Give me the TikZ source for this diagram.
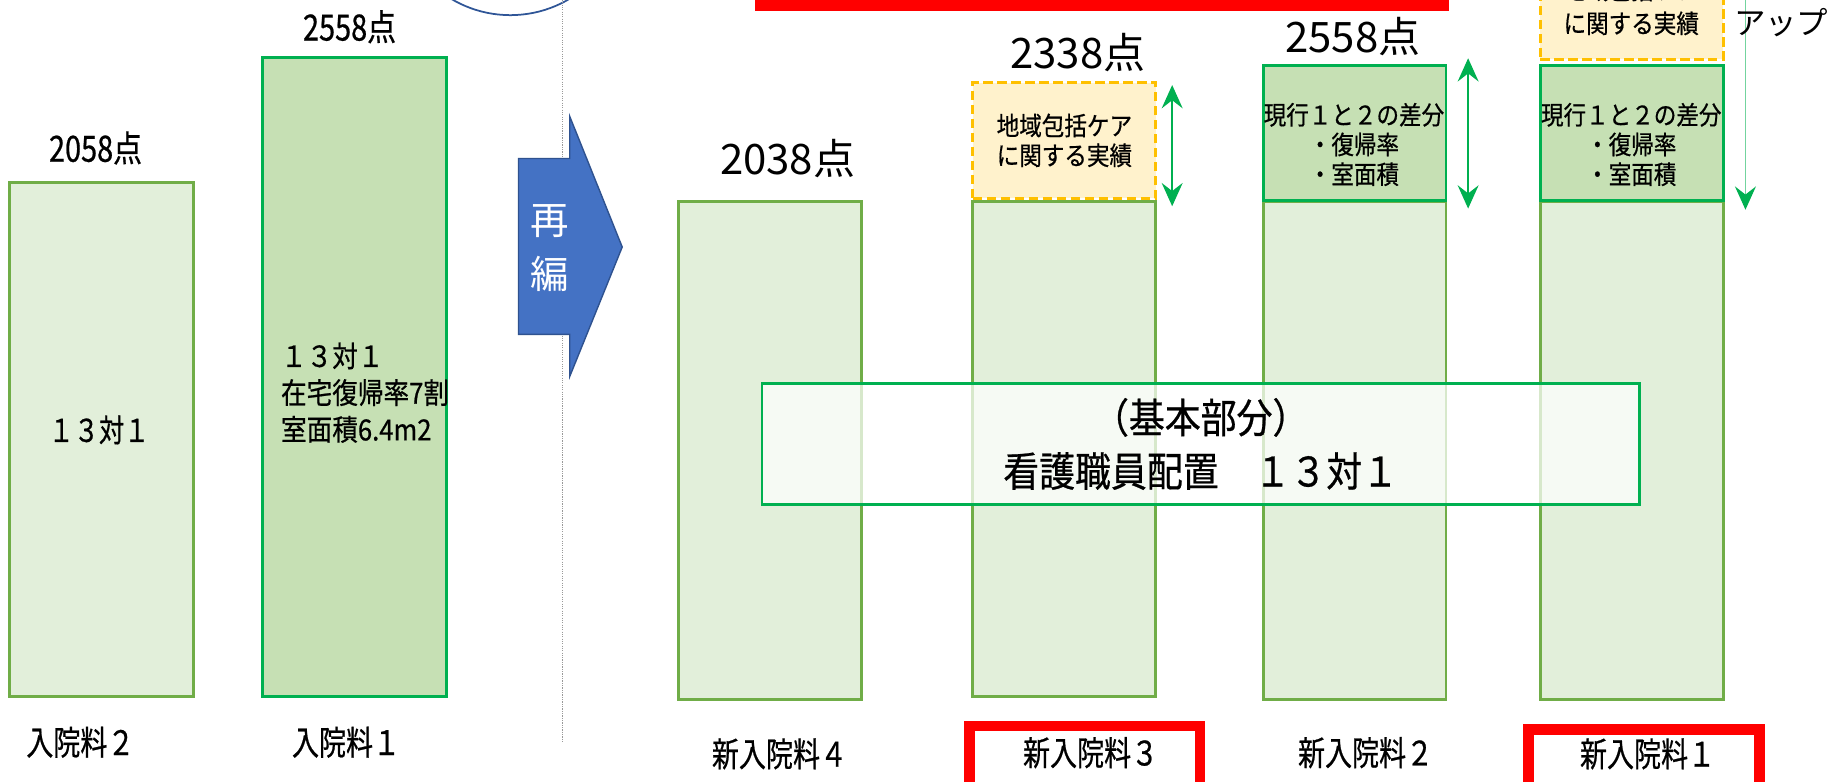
\documentclass[tikz,border=0pt]{standalone}
\usepackage{fontspec}
\newfontfamily\jp{Noto Sans CJK JP}
\newfontfamily\jpn[FakeStretch=0.88, FakeBold=0.6]{Noto Sans CJK JP}
\newfontfamily\jpc[FakeStretch=0.8, FakeBold=0.6]{Noto Sans CJK JP}
\usetikzlibrary{arrows.meta}
\definecolor{lgfill}{HTML}{E2EFDA}
\definecolor{lgborder}{HTML}{70AD47}
\definecolor{dgfill}{HTML}{C6E0B4}
\definecolor{dgborder}{HTML}{00B050}
\definecolor{orfill}{HTML}{FFF2CC}
\definecolor{orborder}{HTML}{FFC000}
\definecolor{arrblue}{HTML}{4472C4}
\definecolor{arrblueb}{HTML}{2F528F}
\definecolor{circblue}{HTML}{2F5597}
\definecolor{pured}{HTML}{FF0000}
\newcommand{\myfs}[2]{\fontsize{#1pt}{#2pt}\selectfont}
\tikzset{
  colbox/.style={inner sep=0pt, outer sep=0pt, anchor=north west, line width=2.5pt},
  lightcol/.style={colbox, draw=lgborder, fill=lgfill},
  darkcol/.style={colbox, draw=dgborder, fill=dgfill},
  dashcol/.style={colbox, draw=orborder, fill=orfill, dash pattern=on 8pt off 4pt},
  smalltxt/.style={font={\jpc\myfs{29}{32}}, inner sep=0pt},
  pointtxt/.style={font={\jpc\myfs{31}{34}}, inner sep=0pt},
  bigpoint/.style={font={\jp\myfs{36}{40}}, inner sep=0pt},
  boxtxt/.style={font={\jpn\myfs{22}{25.5}}, align=center, inner sep=0pt},
  garrow/.style={draw=dgborder, line width=1.2pt, {Stealth[length=20pt, width=18pt, inset=7pt]}-{Stealth[length=20pt, width=18pt, inset=7pt]}},
  garrowdown/.style={draw=dgborder!55, line width=1.2pt, -{Stealth[length=20pt, width=18pt, inset=7pt, color=dgborder]}},
  redframe/.style={draw=pured, line width=9pt, minimum width=198pt, minimum height=72pt, inner sep=0pt, anchor=north west},
}
\begin{document}
\begin{tikzpicture}[x=1pt, y=-1pt]
\useasboundingbox (0,0) rectangle (1568,671);
\fill[white] (0,0) rectangle (1568,671);

% top circle and red bar
\node[circle, draw=circblue, line width=1.5pt, minimum size=198pt, inner sep=0pt] (circ) at (438,-86) {};
\node[fill=pured, inner sep=0pt, minimum width=595pt, minimum height=20pt, anchor=south west] (redbar) at (648,10) {};

% dotted divider
\coordinate (divtop) at (483,0);
\coordinate (divbot) at (483,638);
\draw[gray!80, line width=0.9pt, dash pattern=on 1pt off 1pt] (divtop) -- (divbot);

% left columns
\node[lightcol, minimum width=158pt, minimum height=441pt] (colA) at (8,157) {};
\node[darkcol, minimum width=158pt, minimum height=549pt] (colB) at (225,49) {};
\node[font={\jpc\myfs{27}{30}}, inner sep=0pt] (txtA) at (85,369) {１３対１};
\node[font={\jpn\myfs{25}{31.5}}, align=left, anchor=west, inner sep=0pt] (txtB) at (241,337) {１３対１\\在宅復帰率7割\\室面積6.4m2};
\node[pointtxt] (p2058) at (82,127) {2058点};
\node[pointtxt] (p2558a) at (300,23) {2558点};
\node[smalltxt] (lblA) at (69,637) {入院料２};
\node[smalltxt] (lblB) at (297,637) {入院料１};

% blue arrow
\fill[arrblue, draw=arrblueb, line width=1.2pt] (445,136) -- (489,136) -- (489,100) -- (534,212) -- (489,323) -- (489,287) -- (445,287) -- cycle;
\node[font={\jp\myfs{33}{46}}, text=white, align=center, inner sep=0pt] (saihen) at (472,213) {再\\編};

% right columns
\node[lightcol, minimum width=157pt, minimum height=427pt] (col4) at (582,173) {};
\node[lightcol, minimum width=157pt, minimum height=425pt] (col3) at (835,173) {};
\node[lightcol, minimum width=157pt, minimum height=427pt] (col2) at (1084,173) {};
\node[lightcol, minimum width=157pt, minimum height=427pt] (col1) at (1322,173) {};

\node[dashcol, minimum width=157pt, minimum height=99pt] (dash3) at (835,71) {};
\node[boxtxt] (dash3t) at (dash3.center) {地域包括ケア\\に関する実績};

\node[darkcol, minimum width=157pt, minimum height=116pt] (top2) at (1084,56) {};
\node[boxtxt] (top2t) at (1162,124) {現行１と２の差分\\・復帰率\\・室面積};

\node[darkcol, minimum width=157pt, minimum height=116pt] (top1) at (1322,56) {};
\node[boxtxt] (top1t) at (1400,124) {現行１と２の差分\\・復帰率\\・室面積};
\node[dashcol, minimum width=157pt, minimum height=100pt, anchor=south west] (dash1) at (1322,51) {};
\node[font={\jpn\myfs{22}{29}}, align=center, inner sep=0pt] (dash1t) at (1400,5.5) {地域包括ケア\\に関する実績};

\node[bigpoint] (p2038) at (676,136) {2038点};
\node[bigpoint] (p2338) at (925,45) {2338点};
\node[bigpoint] (p2558b) at (1161,31) {2558点};

% green arrows
\coordinate (a3t) at (1006,73);
\coordinate (a3b) at (1006,177);
\draw[garrow] (a3t) -- (a3b);
\coordinate (a2t) at (1260,50);
\coordinate (a2b) at (1260,179);
\draw[garrow] (a2t) -- (a2b);
\coordinate (a1t) at (1498,-5);
\coordinate (a1b) at (1498,180);
\draw[garrowdown] (a1t) -- (a1b);
\node[font={\jp\myfs{27}{30}}, anchor=west, inner sep=0pt] (up) at (1488,19) {アップ};

% basic part box
\node[draw=dgborder, line width=2pt, fill=white, fill opacity=0.72, text opacity=1, minimum width=753pt, minimum height=104pt, inner sep=0pt, anchor=north west, font={\jpn\myfs{35}{46}}, align=center] (basic) at (653,328) {（基本部分）\\看護職員配置　１３対１};

% bottom labels
\node[smalltxt] (lbl4) at (669,647) {新入院料４};
\node[redframe] (red3) at (827.5,618.5) {};
\node[smalltxt] (lbl3) at (936,646) {新入院料３};
\node[smalltxt] (lbl2) at (1172,646) {新入院料２};
\node[redframe] (red1) at (1307.5,621.5) {};
\node[smalltxt] (lbl1) at (1414,647) {新入院料１};
\end{tikzpicture}
\end{document}
